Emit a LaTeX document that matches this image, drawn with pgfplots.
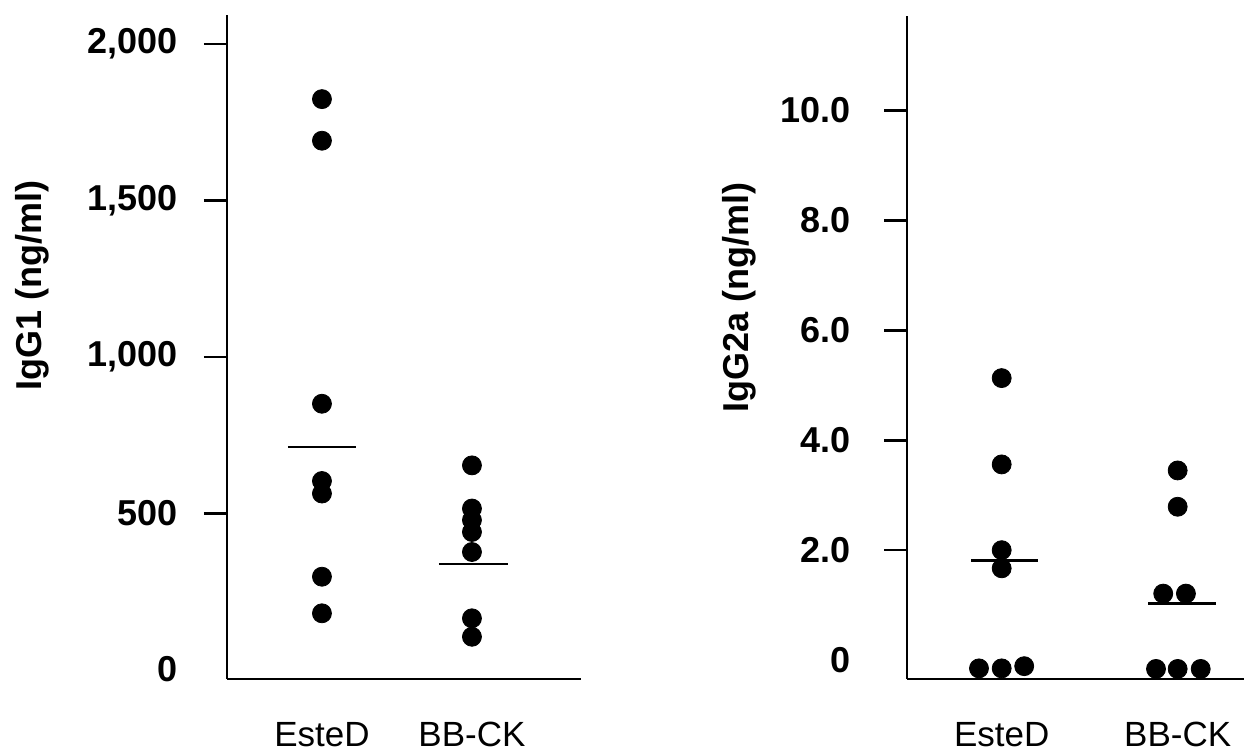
\documentclass[border=0pt]{standalone}
\usepackage{fontspec}
\setmainfont{Liberation Sans}
\usepackage{pgfplots}
\pgfplotsset{compat=1.18}
\newcommand{\tl}[1]{\mbox{\bfseries\fontsize{18}{18}\selectfont #1}}
\newcommand{\xl}[1]{\mbox{\fontsize{17.5}{17.5}\selectfont #1}}
\begin{document}
\begin{tikzpicture}
\useasboundingbox (0,0) rectangle (622pt,376.5pt);
\pgfplotsset{
  myax/.style={
    scale only axis,
    anchor=south west,
    axis lines*=left,
    axis line style={line width=1.4pt},
    clip=false,
    tick align=outside,
    major tick length=11.5pt,
    ytick style={line width=1.3pt, black},
    xtick style={draw=none},
    xtick={1,2},
    xticklabels={\xl{EsteD}, \xl{BB-CK}},
    xticklabel style={anchor=base, yshift=-22.3pt},
    yticklabel style={anchor=east},
    extra y tick style={tick style={draw=none}},
    ylabel style={font=\bfseries\fontsize{18}{18}\selectfont, rotate=0, anchor=center},
  },
  dots/.style={only marks, mark=*, mark size=4.75pt, black, mark options={fill=black, draw=black}},
  mean/.style={black, line width=1.2pt, no marks},
}
% Left panel: IgG1
\begin{axis}[myax,
  at={(113.5pt,37pt)}, width=177pt, height=332pt,
  xmin=0.367, xmax=2.727, ymin=-30, ymax=2093,
  ytick={500,1000,1500,2000},
  yticklabels={\tl{500}\hspace{5pt},\tl{1,000},\tl{1,500},\tl{2,000}},
  yticklabel style={xshift=-9.5pt},
  extra y ticks={0}, extra y tick labels={\tl{0}\hspace{4pt}},
  ylabel={IgG1 (ng/ml)},
  ylabel style={at={(axis description cs:-0.551,0.592)}},
]
\addplot[dots] coordinates {(1,1824) (1,1691) (1,850) (1,603) (1,563) (1,297) (1,180)};
\addplot[dots] coordinates {(2,653) (2,515) (2,478) (2,440) (2,376) (2,164) (2,105)};
\addplot[mean] coordinates {(0.773,712) (1.227,712)};
\addplot[mean] coordinates {(1.78,337) (2.24,337)};
\end{axis}
% Right panel: IgG2a
\begin{axis}[myax,
  at={(453.5pt,37pt)}, width=168.5pt, height=331.6pt,
  xmin=0.462, xmax=2.377, ymin=-0.343, ymax=11.72,
  ytick={2,4,6,8,10},
  yticklabels={\tl{2.0},\tl{4.0},\tl{6.0},\tl{8.0},\tl{10.0}},
  yticklabel style={xshift=-13pt},
  extra y ticks={0}, extra y tick labels={\tl{0}},
  ylabel={IgG2a (ng/ml)},
  ylabel style={at={(axis description cs:-0.4985,0.575)}},
]
\addplot[dots] coordinates {(1,5.13) (1,3.56) (1,2.0) (1,1.67) (0.871,-0.15) (1,-0.15) (1.128,-0.11)};
\addplot[dots] coordinates {(2,3.45) (2,2.79) (1.918,1.21) (2.047,1.21) (1.877,-0.16) (2,-0.16) (2.131,-0.16)};
\addplot[mean] coordinates {(0.826,1.81) (1.205,1.81)};
\addplot[mean] coordinates {(1.833,1.03) (2.218,1.03)};
\end{axis}
\end{tikzpicture}
\end{document}
